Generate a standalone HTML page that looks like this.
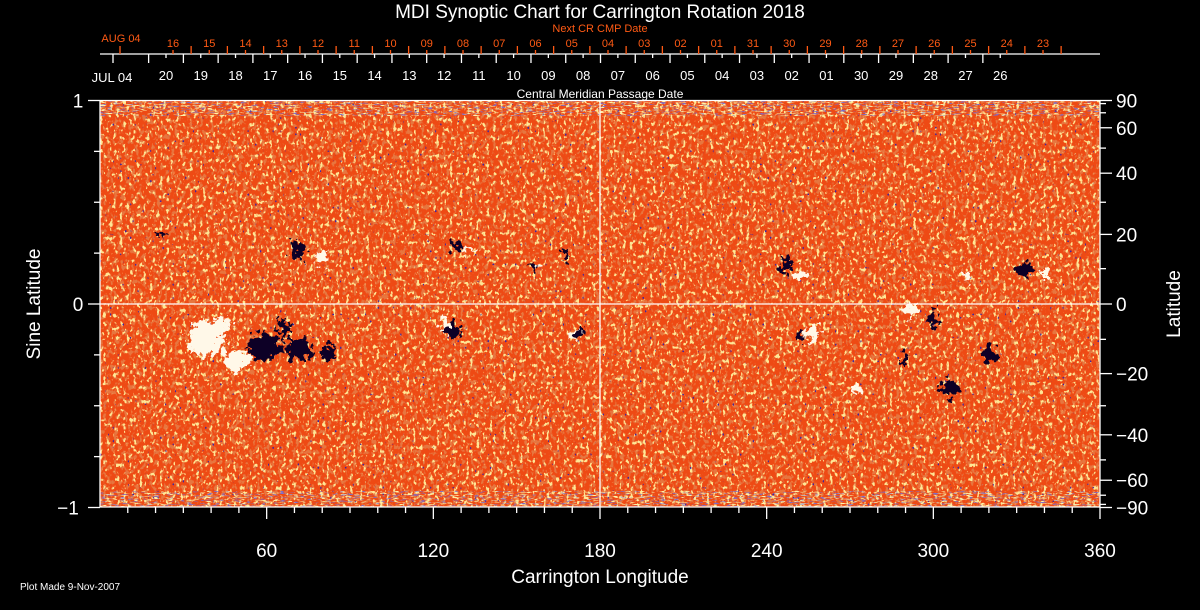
<!DOCTYPE html>
<html><head><meta charset="utf-8"><style>
html,body{margin:0;padding:0;background:#000;}
svg{display:block;font-family:"Liberation Sans",sans-serif;}
</style></head><body>
<svg id="chart" width="1200" height="610" viewBox="0 0 1200 610">
<defs>
<filter id="yellowNoise" x="0" y="0" width="100%" height="100%">
<feTurbulence type="fractalNoise" baseFrequency="0.3 0.22" numOctaves="2" seed="4"/>
<feColorMatrix type="matrix" values="0 0 0 0 1  0 0 0 0 0.8  0 0 0 0 0.3  10 0 0 0 -5.9"/>
</filter>
<filter id="darkNoise" x="0" y="0" width="100%" height="100%">
<feTurbulence type="fractalNoise" baseFrequency="0.28 0.2" numOctaves="2" seed="9"/>
<feColorMatrix type="matrix" values="0 0 0 0 0.8  0 0 0 0 0.18  0 0 0 0 0.05  0 8 0 0 -4.2"/>
</filter>
<filter id="blueNoise" x="0" y="0" width="100%" height="100%">
<feTurbulence type="fractalNoise" baseFrequency="0.4 0.3" numOctaves="1" seed="21"/>
<feColorMatrix type="matrix" values="0 0 0 0 0.05  0 0 0 0 0.02  0 0 0 0 0.35  0 0 16 0 -11.5"/>
</filter>
<filter id="bandNoise" x="0" y="0" width="100%" height="100%">
<feTurbulence type="fractalNoise" baseFrequency="0.15 0.9" numOctaves="2" seed="7"/>
<feColorMatrix type="matrix" values="0 0 0 0 0.2  0 0 0 0 0.15  0 0 0 0 0.6  8 0 0 0 -4.8"/>
</filter>
<filter id="bandYellow" x="0" y="0" width="100%" height="100%">
<feTurbulence type="fractalNoise" baseFrequency="0.15 0.9" numOctaves="2" seed="17"/>
<feColorMatrix type="matrix" values="0 0 0 0 1  0 0 0 0 0.9  0 0 0 0 0.4  8 0 0 0 -4.6"/>
</filter>
<filter id="rough" x="-30%" y="-30%" width="160%" height="160%">
<feTurbulence type="fractalNoise" baseFrequency="0.15" numOctaves="3" seed="2" result="t"/>
<feDisplacementMap in="SourceGraphic" in2="t" scale="22" xChannelSelector="R" yChannelSelector="G"/>
</filter>
<clipPath id="plotClip"><rect x="100" y="100" width="1000" height="407"/></clipPath>
</defs>
<g id="plot" clip-path="url(#plotClip)">
<rect x="100" y="100" width="1000" height="407" fill="#ee4a14"/>
<rect x="100" y="100" width="1000" height="407" filter="url(#darkNoise)"/>
<rect x="100" y="100" width="1000" height="407" filter="url(#yellowNoise)"/>
<rect x="100" y="100" width="1000" height="407" filter="url(#blueNoise)"/>
<rect x="100" y="100" width="1000" height="16" filter="url(#bandYellow)"/>
<rect x="100" y="100" width="1000" height="16" filter="url(#bandNoise)"/>
<rect x="100" y="491" width="1000" height="16" filter="url(#bandYellow)"/>
<rect x="100" y="491" width="1000" height="16" filter="url(#bandNoise)"/>
<g id="regions" filter="url(#rough)"></g>
</g>
<g id="axes"></g>
</svg>
<script>
// Active region blobs: longitude (deg), sine latitude, polarity (1 white, -1 black), radius lon (deg), radius sine
const regionLon  = [38, 49, 59, 72, 82, 71, 80, 22, 128, 132, 127, 124, 173, 171, 156, 158, 168, 247, 252, 312, 333, 340, 256, 252, 292, 300, 290, 306, 272, 320, 66, 44];
const regionLat  = [-0.17,-0.27,-0.21,-0.22,-0.24,0.27,0.22,0.34,0.28,0.27,-0.12,-0.10,-0.14,-0.15,0.19,0.19,0.23,0.19,0.14,0.13,0.17,0.15,-0.14,-0.15,-0.03,-0.07,-0.27,-0.42,-0.42,-0.25,-0.12,-0.10];
const regionPol  = [1,1,-1,-1,-1,-1,1,-1,-1,1,-1,1,-1,1,-1,1,-1,-1,1,1,-1,1,1,-1,1,-1,-1,-1,1,-1,-1,1];
const regionRx   = [6,4.5,6,5,3,2.5,2.5,1.5,2,1.8,2.5,2,1.5,1.2,1.2,1.2,1.5,2,2,1.3,2.5,1.8,2.5,1.5,2.5,2,1.5,3.5,1.5,2.5,2,3];
const regionRy   = [0.09,0.06,0.07,0.05,0.035,0.05,0.035,0.015,0.025,0.015,0.05,0.035,0.025,0.015,0.02,0.015,0.025,0.04,0.03,0.025,0.035,0.025,0.045,0.025,0.035,0.04,0.025,0.04,0.025,0.04,0.04,0.04];

const NS='http://www.w3.org/2000/svg';
const X0=100,X1=1100,Y0=304,YS=203.5;
function xScale(lon){return X0+lon*(X1-X0)/360;}
function yScale(s){return Y0-s*YS;}
function mk(tag,attrs,parent){const e=document.createElementNS(NS,tag);for(const k in attrs)e.setAttribute(k,attrs[k]);parent.appendChild(e);return e;}

const reg=document.getElementById('regions');
for(let i=0;i<regionLon.length;i++){
  const e=mk('ellipse',{cx:xScale(regionLon[i]),cy:yScale(regionLat[i]),rx:regionRx[i]*1000/360,ry:regionRy[i]*YS,fill:regionPol[i]>0?'#fff8e8':'#0c0428'},reg);
  
  
}

const ax=document.getElementById('axes');
function line(x1,y1,x2,y2,c,name){const l=mk('line',{x1,y1,x2,y2,stroke:c,'stroke-width':1.3},ax);
  
  return l;}
function text(x,y,s,size,c,anchor,name,rot){const t=mk('text',{x,y,'font-size':size,fill:c,'text-anchor':anchor||'middle'},ax);t.textContent=s;
  if(rot)t.setAttribute('transform','rotate(-90 '+x+' '+y+')');
  
  return t;}

line(100,100.5,1100,100.5,'#fff','plot-top-border');
line(100,507,1100,507,'#fff','x-axis-line');
line(100,100,100,507,'#fff','y-axis-line');
line(1100,100,1100,507,'#fff','right-axis-line');
line(600,100,600,507,'#fff','central-meridian-line');
line(100,304,1100,304,'#fff','equator-line');

const lonTicks=[60,120,180,240,300,360];
for(let l=10;l<=360;l+=10){line(xScale(l),507,xScale(l),l%60===0?519:513,'#fff','x-tick');}
lonTicks.forEach(l=>text(xScale(l),557,String(l),19,'#fff','middle','x-tick-label'));
text(600,583,'Carrington Longitude',19,'#fff','middle','x-axis-title');

const sineTicks=[1,0,-1];
for(let s=-1;s<=1.001;s+=0.25){const m=Math.abs(s%1)<0.01;line(m?88:94,yScale(s),100,yScale(s),'#fff','y-tick');}
sineTicks.forEach(s=>text(s<0?68:78,yScale(s)+7,s<0?'\u22121':String(s),19,'#fff','middle','y-tick-label'));
text(40,304,'Sine Latitude',19,'#fff','middle','y-axis-title',true);

const latTicks=[90,60,40,20,0,-20,-40,-60,-90];
for(let a=-90;a<=90;a+=10){const y=yScale(Math.sin(a*Math.PI/180));line(1100,y,latTicks.includes(a)?1112:1106,y,'#fff','right-tick');}
latTicks.forEach(a=>{const y=yScale(Math.sin(a*Math.PI/180));text(1116,y+7,a<0?'\u2212'+(-a):String(a),19,'#fff','start','right-tick-label');});
text(1180,304,'Latitude',19,'#fff','middle','right-axis-title',true);

const cmpLabels=['20','19','18','17','16','15','14','13','12','11','10','09','08','07','06','05','04','03','02','01','30','29','28','27','26'];
const nextLabels=['16','15','14','13','12','11','10','09','08','07','06','05','04','03','02','01','31','30','29','28','27','26','25','24','23'];
line(100,54,1100,54,'#fff','date-axis-line');
const cs=34.76;
cmpLabels.forEach((d,i)=>{const x=166+i*cs;line(x,54,x,58,'#fff','cmp-minor-tick');line(x-cs/2,54,x-cs/2,63,'#fff','cmp-major-tick');text(x,80,d,13,'#fff','middle','cmp-date-label');});
line(113,54,113,63,'#fff','cmp-major-tick');
text(112,82,'JUL 04',13,'#fff','middle','cmp-start-label');
const ns=36.25,oc='#ff5a14';
nextLabels.forEach((d,i)=>{const x=173+i*ns;line(x,54,x,50,oc,'next-minor-tick');line(x+ns/2,54,x+ns/2,46,oc,'next-major-tick');text(x,47,d,11,oc,'middle','next-date-label');});
line(120,54,120,46,oc,'next-major-tick');
text(121,42,'AUG 04',11,oc,'middle','next-start-label');
text(600,32,'Next CR CMP Date',11,oc,'middle','next-axis-title');
text(600,98,'Central Meridian Passage Date',12,'#fff','middle','cmp-axis-title');
text(600,18,'MDI Synoptic Chart for Carrington Rotation 2018',19,'#fff','middle','chart-title');
text(20,590,'Plot Made  9-Nov-2007',10,'#fff','start','plot-made-note');
</script>
</body></html>
